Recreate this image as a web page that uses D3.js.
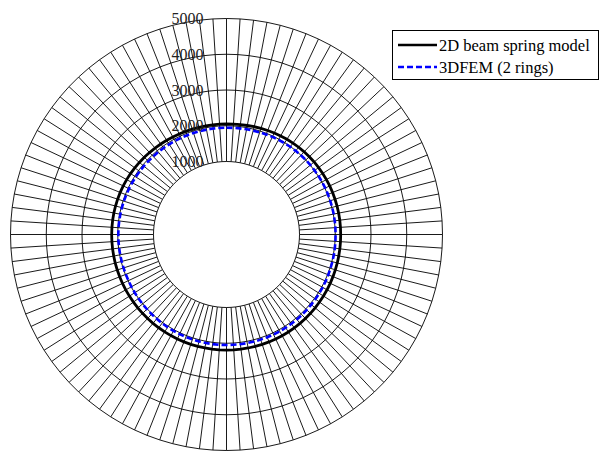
<!DOCTYPE html>
<html>
<head>
<meta charset="utf-8">
<script src="https://cdn.jsdelivr.net/npm/d3@7"></script>
<style>
  body { margin: 0; background: #fff; }
  svg { display: block; }
</style>
</head>
<body>
<div id="container"></div>
<script>
var width = 599;
var height = 453;
var cx = 226.5, cy = 234.5; // centre of the radar
var rInner = 73, rOuter = 216;

// radial axis ticks
var radialTicks = [1000, 2000, 3000, 4000, 5000];

// 100 categories around the circle, first one at the top, clockwise
var categories = d3.range(1, 101);

// series values
var beamSpring = [
    2050, 2052, 2056, 2062, 2070, 2078, 2087, 2096, 2105, 2113,
    2120, 2126, 2131, 2136, 2140, 2143, 2146, 2148, 2149, 2150,
    2150, 2151, 2151, 2152, 2152, 2152, 2153, 2154, 2155, 2157,
    2159, 2161, 2164, 2167, 2170, 2173, 2176, 2179, 2182, 2184,
    2186, 2187, 2188, 2189, 2190, 2190, 2190, 2190, 2190, 2190,
    2190, 2190, 2190, 2189, 2189, 2188, 2187, 2186, 2185, 2184,
    2183, 2182, 2180, 2179, 2178, 2176, 2175, 2174, 2173, 2172,
    2171, 2171, 2170, 2170, 2170, 2170, 2169, 2168, 2166, 2163,
    2160, 2156, 2151, 2145, 2138, 2130, 2121, 2112, 2103, 2094,
    2086, 2078, 2071, 2065, 2060, 2056, 2053, 2051, 2050, 2050
];

var fem3d = [
    1945, 1946, 1949, 1953, 1958, 1963, 1969, 1975, 1981, 1986,
    1991, 1995, 1999, 2002, 2004, 2006, 2008, 2009, 2010, 2010,
    2010, 2010, 2010, 2010, 2010, 2010, 2011, 2012, 2014, 2016,
    2018, 2021, 2024, 2027, 2030, 2033, 2036, 2039, 2042, 2044,
    2046, 2047, 2048, 2049, 2050, 2050, 2050, 2050, 2050, 2050,
    2050, 2050, 2049, 2048, 2046, 2044, 2041, 2038, 2034, 2030,
    2026, 2021, 2016, 2011, 2006, 2001, 1997, 1993, 1990, 1988,
    1986, 1985, 1985, 1985, 1985, 1985, 1984, 1983, 1981, 1979,
    1977, 1974, 1971, 1968, 1965, 1962, 1959, 1956, 1953, 1951,
    1949, 1947, 1946, 1945, 1945, 1945, 1945, 1945, 1945, 1945
];

var seriesNames = ["2D beam spring model", "3DFEM (2 rings)"];

var angle = d3.scaleBand()
    .domain(categories)
    .range([0, 2 * Math.PI])
    .align(0)
    .paddingInner(0)
    .paddingOuter(0);

var r = d3.scaleLinear()
    .domain([1000, 5000])
    .range([rInner, rOuter]);

var svg = d3.select("#container")
    .append("svg")
    .attr("width", width)
    .attr("height", height);

var g = svg.append("g")
    .attr("transform", "translate(" + cx + "," + cy + ")");

// spokes
g.selectAll("line.spoke")
    .data(categories)
    .enter()
    .append("line")
    .attr("class", "spoke")
    .attr("x1", function(d) { return r(1000) * Math.sin(angle(d)); })
    .attr("y1", function(d) { return -r(1000) * Math.cos(angle(d)); })
    .attr("x2", function(d) { return r(5000) * Math.sin(angle(d)); })
    .attr("y2", function(d) { return -r(5000) * Math.cos(angle(d)); })
    .attr("stroke", "#000")
    .attr("stroke-width", 0.9);

// grid rings (polygons through the categories)
var ring = function(v) {
    return d3.lineRadial()
        .angle(function(d) { return angle(d); })
        .radius(function() { return r(v); })
        .curve(d3.curveLinearClosed)(categories);
};

g.selectAll("path.ring")
    .data(radialTicks)
    .enter()
    .append("path")
    .attr("class", "ring")
    .attr("d", function(d) { return ring(d); })
    .attr("fill", "none")
    .attr("stroke", "#000")
    .attr("stroke-width", 0.9);

// series
var seriesLine = d3.lineRadial()
    .angle(function(d, i) { return angle(categories[i]); })
    .radius(function(d) { return r(d); })
    .curve(d3.curveLinearClosed);

g.append("path")
    .attr("d", seriesLine(beamSpring))
    .attr("fill", "none")
    .attr("stroke", "#000")
    .attr("stroke-width", 2.8);

g.append("path")
    .attr("d", seriesLine(fem3d))
    .attr("fill", "none")
    .attr("stroke", "#0000ff")
    .attr("stroke-width", 2.6)
    .attr("stroke-dasharray", "6,3");

// radial tick labels
g.selectAll("text.tick")
    .data(radialTicks)
    .enter()
    .append("text")
    .attr("class", "tick")
    .attr("x", -23)
    .attr("y", function(d) { return -r(d); })
    .attr("dy", "0.35em")
    .attr("text-anchor", "end")
    .attr("font-family", "Liberation Serif, Times New Roman, serif")
    .attr("font-size", "16px")
    .attr("fill", "#222")
    .text(function(d) { return d; });

// legend
var legend = svg.append("g");
legend.append("rect")
    .attr("x", 392.5)
    .attr("y", 30.5)
    .attr("width", 206)
    .attr("height", 49)
    .attr("fill", "#fff")
    .attr("stroke", "#000")
    .attr("stroke-width", 1);

var legendStyle = [
    { color: "#000", dash: null },
    { color: "#0000ff", dash: "6,3" }
];

seriesNames.forEach(function(name, i) {
    var y = 45 + i * 22;
    legend.append("line")
        .attr("x1", 398)
        .attr("x2", 437)
        .attr("y1", y)
        .attr("y2", y)
        .attr("stroke", legendStyle[i].color)
        .attr("stroke-width", 2.6)
        .attr("stroke-dasharray", legendStyle[i].dash);
    legend.append("text")
        .attr("x", 439)
        .attr("y", y)
        .attr("dy", "0.35em")
        .attr("font-family", "Liberation Serif, Times New Roman, serif")
        .attr("font-size", "16.5px")
        .attr("fill", "#000")
        .text(name);
});
</script>
</body>
</html>
